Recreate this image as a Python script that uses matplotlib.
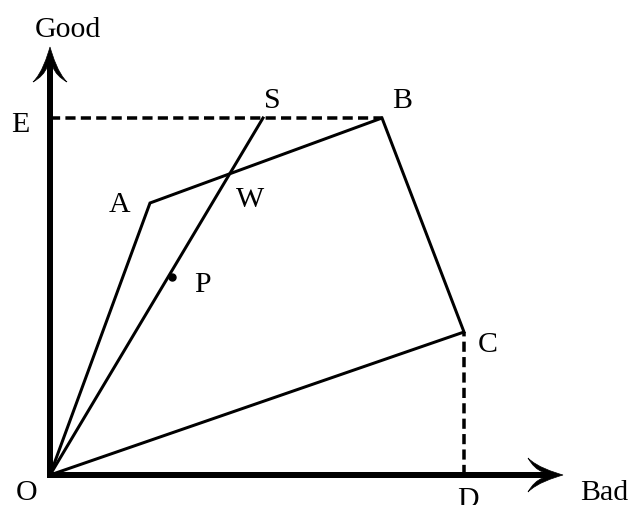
import matplotlib

matplotlib.use("Agg")
import matplotlib.pyplot as plt
import numpy as np
from matplotlib.path import Path
from matplotlib.patches import PathPatch

# Points of the diagram, in pixel-like units measured from the origin O
# (x to the right = "Bad", y upwards = "Good").
O = (0, 0)
A = (100, 272)
B = (332, 357)
C = (414, 143)
S = (213, 357)
P = (122, 198)
E = (0, 357)
D = (414, 0)

# Axis arrow tips
X_TIP = (513, 0)
Y_TIP = (0, 428)

# label text and baseline anchor (x centre, baseline y)
LABELS = ["Good", "E", "S", "B", "A", "W", "P", "C", "O", "D"]
LABEL_X = [18, -30, 222, 352, 70, 200, 152, 438, -23, 418]
LABEL_Y = [439, 344, 368, 368, 264, 269, 184, 124, -24, -31]
BAD_LABEL = ("Bad", 530, -24)

INK = "black"
W_PX, H_PX = 631, 506
X0_PX, Y0_PX = 50, 476  # where O sits in the picture


def arrowhead(ax, tip, direction):
    """Curved, swept-back arrowhead drawn as a filled path."""
    d = np.asarray(direction, float)
    d /= np.hypot(*d)
    n = np.array([-d[1], d[0]])
    local = [(0, 0), (10, 3), (26, 8), (35, 17),
             (31, 10), (26, 5), (20, 3),
             (20, -3),
             (26, -5), (31, -10), (35, -17),
             (26, -8), (10, -3), (0, 0), (0, 0)]
    codes = [Path.MOVETO, Path.CURVE4, Path.CURVE4, Path.CURVE4,
             Path.CURVE4, Path.CURVE4, Path.CURVE4,
             Path.LINETO,
             Path.CURVE4, Path.CURVE4, Path.CURVE4,
             Path.CURVE4, Path.CURVE4, Path.CURVE4, Path.CLOSEPOLY]
    t = np.asarray(tip, float)
    verts = [t - b * d + s * n for b, s in local]
    ax.add_patch(PathPatch(Path(verts, codes), facecolor=INK, edgecolor=INK,
                           lw=0.5, zorder=6))


fig = plt.figure(figsize=(W_PX / 100, H_PX / 100), dpi=100)
ax = fig.add_axes([0, 0, 1, 1])
ax.set_xlim(-X0_PX, W_PX - X0_PX)
ax.set_ylim(Y0_PX - H_PX, Y0_PX)
ax.axis("off")

px = 0.72  # one pixel in points at dpi 100

# solid figure: O-A-B-C-O and the ray O-P-S
poly = [O, A, B, C, O]
ax.plot([p[0] for p in poly], [p[1] for p in poly], color=INK, lw=3 * px,
        solid_joinstyle="miter", zorder=3)
ax.plot([O[0], S[0]], [O[1], S[1]], color=INK, lw=3 * px, zorder=3)

# dashed guides E-B and D-C
dash = (0, (2.9, 1.5))
ax.plot([E[0], B[0]], [E[1], B[1]], color=INK, lw=3.5 * px, ls=dash, zorder=2)
ax.plot([D[0], C[0]], [D[1], C[1]], color=INK, lw=3.5 * px, ls=dash, zorder=2)

# point P
ax.plot(*P, "o", color=INK, ms=7 * px, zorder=4)

# axes
ax.plot([O[0], X_TIP[0] - 20], [O[1], O[1]], color=INK, lw=6 * px,
        solid_capstyle="projecting", zorder=5)
ax.plot([O[0], O[0]], [O[1], Y_TIP[1] - 20], color=INK, lw=6 * px,
        solid_capstyle="projecting", zorder=5)
arrowhead(ax, X_TIP, (1, 0))
arrowhead(ax, Y_TIP, (0, 1))

font = dict(family="Liberation Serif", fontsize=21.5, color=INK)
for txt, x, y in zip(LABELS, LABEL_X, LABEL_Y):
    ax.text(x, y, txt, ha="center", va="baseline", **font)
ax.text(BAD_LABEL[1], BAD_LABEL[2], BAD_LABEL[0], ha="left", va="baseline", **font)

fig.savefig("out.png", dpi=100)
